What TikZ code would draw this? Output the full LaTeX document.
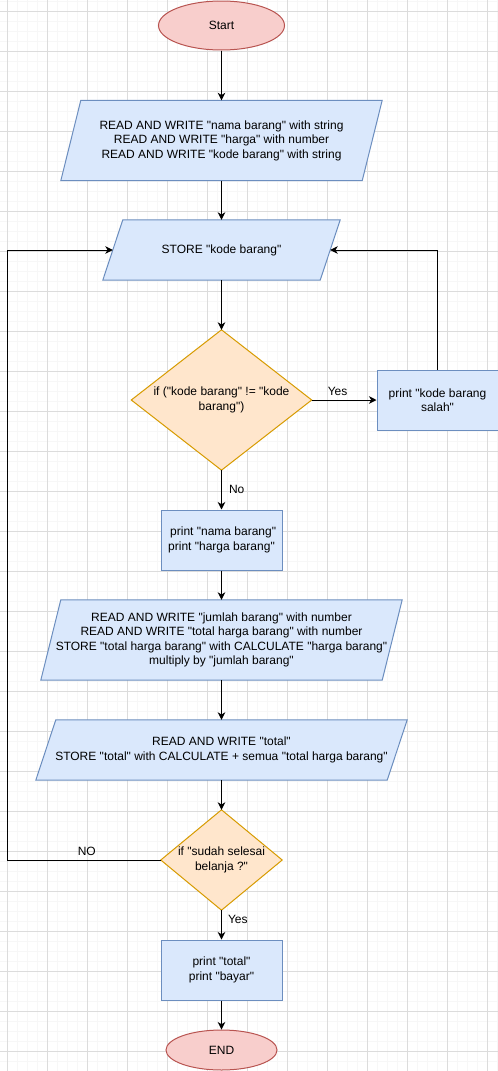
\documentclass[tikz,border=0pt]{standalone}
\usepackage{fontspec}
\newfontfamily\lsans{Liberation Sans}
\usetikzlibrary{shapes.geometric,arrows.meta}
\pgfdeclarelayer{gridlayer}
\pgfdeclarelayer{shapelayer}
\pgfsetlayers{gridlayer,shapelayer,main}
\definecolor{redfill}{HTML}{F8CECC}
\definecolor{redline}{HTML}{B85450}
\definecolor{bluefill}{HTML}{DAE8FC}
\definecolor{blueline}{HTML}{6C8EBF}
\definecolor{orfill}{HTML}{FFE6CC}
\definecolor{orline}{HTML}{D79B00}
\definecolor{gridmajor}{RGB}{220,220,220}
\definecolor{gridminor}{RGB}{247,247,247}
\tikzset{
  terminal/.style={ellipse, draw=redline, fill=redfill, line width=1pt, inner sep=0pt},
  procbox/.style={rectangle, draw=blueline, fill=bluefill, line width=1pt, align=center, inner sep=0pt},
  holder/.style={rectangle, align=center, inner sep=0pt},
  parashape/.style={draw=blueline, fill=bluefill, line width=1pt},
  decshape/.style={draw=orline, fill=orfill, line width=1pt},
  arr/.style={line width=1pt, -{Stealth[length=7.5pt,width=7.5pt,inset=2.2pt]}},
  lbl/.style={inner sep=4pt},
  majorgrid/.style={gridmajor, line width=0.8pt},
  minorgrid/.style={gridminor, line width=0.8pt}
}
\newcommand{\drawpara}[1]{%
  \begin{pgfonlayer}{shapelayer}
    \draw[parashape] ([xshift=20pt]#1.north west) -- (#1.north east) -- ([xshift=-20pt]#1.south east) -- (#1.south west) -- cycle;
  \end{pgfonlayer}}
\newcommand{\drawdec}[1]{%
  \begin{pgfonlayer}{shapelayer}
    \draw[decshape] (#1.north) -- (#1.east) -- (#1.south) -- (#1.west) -- cycle;
  \end{pgfonlayer}}
\begin{document}
\begin{tikzpicture}[x=1pt,y=-1pt,font=\lsans\fontsize{12}{14.5}\selectfont]
\useasboundingbox (0,0) rectangle (498,1071);
\begin{pgfonlayer}{gridlayer}
  \fill[white] (0,0) rectangle (498,1071);
  \foreach \i in {0,...,49} \draw[minorgrid] ({7.7+10*\i},0) -- ++(0,1071);
  \foreach \i in {0,...,107} \draw[minorgrid] (0,{1.7+10*\i}) -- ++(498,0);
  \foreach \i in {0,...,12} \draw[majorgrid] ({7.7+40*\i},0) -- ++(0,1071);
  \foreach \i in {0,...,26} \draw[majorgrid] (0,{11.7+40*\i}) -- ++(498,0);
\end{pgfonlayer}

\node[terminal, minimum width=126pt, minimum height=49pt] (start) at (221.5,25.5) {Start};

\node[holder, minimum width=321pt, minimum height=80pt] (p1) at (221.5,140.5)
  {READ AND WRITE "nama barang" with string\\READ AND WRITE "harga" with number\\READ AND WRITE "kode barang" with string};
\drawpara{p1}

\node[holder, minimum width=237pt, minimum height=60pt] (store) at (221.5,250) {STORE "kode barang"};
\drawpara{store}

\node[holder, minimum width=180pt, minimum height=140pt] (d1) at (221.5,400)
  {if ("kode barang" != "kode\\barang")};
\drawdec{d1}

\node[procbox, minimum width=121pt, minimum height=60pt] (b1) at (437.5,400) {print "kode barang\\salah"};

\node[procbox, minimum width=121pt, minimum height=60pt] (b2) at (221.5,540) {\ print "nama barang"\\print "harga barang"};

\node[holder, minimum width=361pt, minimum height=80pt] (p3) at (221.5,640)
  {READ AND WRITE "jumlah barang" with number\\READ AND WRITE "total harga barang" with number\\STORE "total harga barang" with CALCULATE "harga barang"\\multiply by "jumlah barang"};
\drawpara{p3}

\node[holder, minimum width=371pt, minimum height=60pt] (p4) at (221.5,750)
  {READ AND WRITE "total"\\STORE "total" with CALCULATE + semua "total harga barang"};
\drawpara{p4}

\node[holder, minimum width=121pt, minimum height=100pt] (d2) at (221.5,860)
  {if "sudah selesai\\belanja ?"};
\drawdec{d2}

\node[procbox, minimum width=121pt, minimum height=60pt] (b3) at (221.5,970) {print "total"\\print "bayar"};

\node[terminal, minimum width=111pt, minimum height=40pt] (stop) at (221.5,1050) {END};

\coordinate (lc) at (7.5,860);

\draw[arr] (start.south) -- (p1.north);
\draw[arr] (p1.south) -- (store.north);
\draw[arr] (store.south) -- (d1.north);
\draw[arr] (d1.east) -- node[lbl, above, pos=0.4] {Yes} (b1.west);
\draw[arr] (b1.north) |- ([xshift=-10pt]store.east);
\draw[arr] (d1.south) -- node[lbl, right, xshift=3pt] {No} (b2.north);
\draw[arr] (b2.south) -- (p3.north);
\draw[arr] (p3.south) -- (p4.north);
\draw[arr] (p4.south) -- (d2.north);
\draw[arr] (d2.west) -- node[lbl, above, pos=0.483] {NO} (lc) |- ([xshift=10pt]store.west);
\draw[arr] (d2.south) -- node[lbl, right, pos=0.3, xshift=2pt] {Yes} (b3.north);
\draw[arr] (b3.south) -- (stop.north);
\end{tikzpicture}
\end{document}
